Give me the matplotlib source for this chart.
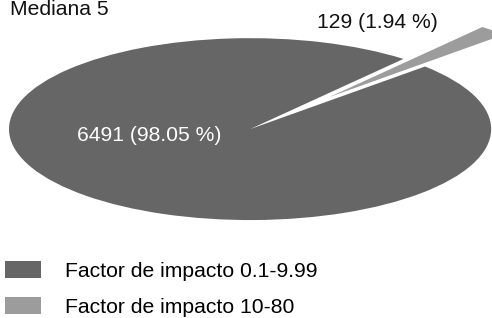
import matplotlib
matplotlib.use('Agg')
import matplotlib.pyplot as plt

# data
categories = ['Factor de impacto 0.1-9.99', 'Factor de impacto 10-80']
counts = [6491, 129]
percents = [98.05, 1.94]
colors = ['#666666', '#9c9c9c']
title = 'Mediana 5'

plt.rcParams['font.family'] = ['Liberation Sans', 'DejaVu Sans']

fig = plt.figure(figsize=(4.92, 3.18), dpi=100)
# axes placed so the squashed pie fills the upper part
ax = fig.add_axes([0.0183, 0.308, 0.980, 0.572])

wedges, _ = ax.pie(counts, colors=colors, startangle=50.5,
                   explode=[0, 0.48], radius=1,
                   wedgeprops={'linewidth': 0, 'clip_on': False})
ax.set_aspect('auto')
ax.set_xlim(-1, 1)
ax.set_ylim(-1, 1)
ax.axis('off')

labels = ['%d (%.2f %%)' % (c, p) for c, p in zip(counts, percents)]
ax.text(-0.42, -0.066, labels[0], color='white', fontsize=15.2,
        ha='center', va='center')
ax.text(0.527, 1.176, labels[1], color='#111111', fontsize=15.2,
        ha='center', va='center', clip_on=False)

fig.text(0.02, 1 - 15 / 318, title, fontsize=15.2, color='#111111',
         ha='left', va='baseline')

fig.legend(wedges, categories, loc='upper left',
           bbox_to_anchor=(0.01, 1 - 261 / 318), frameon=False,
           fontsize=15.2, handlelength=1.7, handleheight=0.86,
           handletextpad=1.14, labelspacing=0.78, borderpad=0,
           borderaxespad=0)

fig.savefig('out.png', dpi=100)
